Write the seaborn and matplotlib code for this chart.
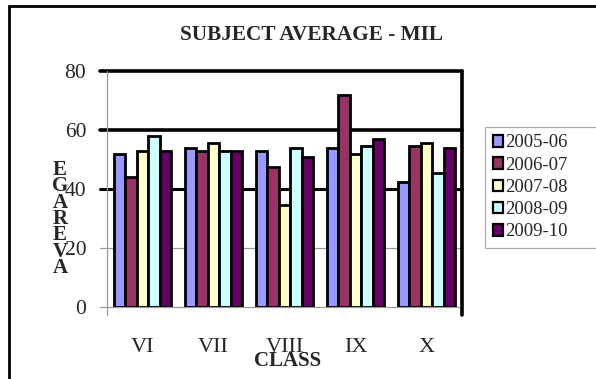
import matplotlib
matplotlib.use("Agg")
import matplotlib.pyplot as plt
import pandas as pd
import seaborn as sns
from matplotlib.patches import Patch, Rectangle

# Subject averages (MIL) per class, one list per academic year
classes = ["VI", "VII", "VIII", "IX", "X"]
years = ["2005-06", "2006-07", "2007-08", "2008-09", "2009-10"]
avg_2005_06 = [52, 54, 53, 54, 42.5]
avg_2006_07 = [44, 53, 47.5, 72, 54.5]
avg_2007_08 = [53, 55.5, 34.5, 52, 55.5]
avg_2008_09 = [58, 53, 54, 54.5, 45.5]
avg_2009_10 = [53, 53, 51, 57, 54]
y_ticks = [0, 20, 40, 60, 80]
colors = ["#9999FF", "#993366", "#FFFFCC", "#CCFFFF", "#660066"]

series = [avg_2005_06, avg_2006_07, avg_2007_08, avg_2008_09, avg_2009_10]
df = pd.DataFrame(
    [(c, y, v) for y, vals in zip(years, series) for c, v in zip(classes, vals)],
    columns=["class", "year", "avg"],
)

sns.set_style("white")
plt.rcParams["font.family"] = ["Liberation Serif", "DejaVu Serif"]

W, H = 596, 379
fig = plt.figure(figsize=(W / 100, H / 100), dpi=100)
ax_l, ax_r, ax_t, ax_b = 107, 462, 71, 307
ax = fig.add_axes([ax_l / W, 1 - ax_b / H, (ax_r - ax_l) / W, (ax_b - ax_t) / H])

sns.barplot(data=df, x="class", y="avg", hue="year", hue_order=years,
            palette=colors, saturation=1, edgecolor="black", linewidth=2,
            width=0.8, ax=ax, legend=False, zorder=2)

ax.set_ylim(0, 80)
ax.set_xlim(-0.5, 4.5)
for s in ax.spines.values():
    s.set_visible(False)

# horizontal value lines, reaching slightly left of the plot like tick marks
ext = -7 / (ax_r - ax_l)
line_style = {0: ("#999999", 0.9), 20: ("#999999", 0.9), 40: ("black", 2.2),
              60: ("black", 2.6), 80: ("black", 2.6)}
for yv in y_ticks:
    c, lw = line_style[yv]
    ax.axhline(yv, xmin=ext, xmax=1, color=c, lw=lw, clip_on=False, zorder=0.5)

down = -8 / (ax_b - ax_t)
ax.plot([0, 0], [down, 1], transform=ax.transAxes, color="#999999", lw=0.9,
        clip_on=False, zorder=0.5)
ax.plot([1, 1], [down, 1], transform=ax.transAxes, color="black", lw=2.6,
        clip_on=False, zorder=3)

ax.set_yticks(y_ticks)
ax.set_yticklabels([str(v) for v in y_ticks])
ax.tick_params(axis="y", length=0, pad=15, labelsize=15.5)

ax.set_xticks(range(len(classes)))
ax.set_xticklabels(classes)
ax.tick_params(axis="x", which="major", length=0, pad=22, labelsize=16)
ax.set_xticks([i + 0.5 for i in range(len(classes) - 1)], minor=True)
ax.tick_params(axis="x", which="minor", length=6, direction="out")
for i, t in enumerate(ax.xaxis.get_minor_ticks()):
    if i % 2 == 0:
        t.tick1line.set_color("#999999")
        t.tick1line.set_markeredgewidth(0.9)
    else:
        t.tick1line.set_color("black")
        t.tick1line.set_markeredgewidth(2.4)

ax.set_xlabel("CLASS", fontsize=15, fontweight="bold")
ax.xaxis.set_label_coords(0.5 + 3 / (ax_r - ax_l), -(361 - ax_b) / (ax_b - ax_t))
ax.xaxis.label.set_va("center")
ax.set_ylabel("")

# vertical axis caption, letters stacked
fig.text(60 / W, 1 - 219 / H, "\n".join("EGAREVA"), ha="center", va="center",
         fontsize=15, fontweight="bold", linespacing=0.76)

fig.text(312 / W, 1 - 35 / H, "SUBJECT AVERAGE - MIL", ha="center", va="center",
         fontsize=15.3, fontweight="bold")

handles = [Patch(facecolor=c, edgecolor="black", linewidth=1.6) for c in colors]
leg = fig.legend(handles, years, loc="upper left",
                 bbox_to_anchor=(485 / W, 1 - 127 / H, 0.3, 0.0), mode="expand",
                 fontsize=13.5, frameon=True, fancybox=False, edgecolor="#999999",
                 handlelength=0.55, handleheight=0.55, handletextpad=0.15,
                 labelspacing=0.28, borderpad=0.4, borderaxespad=0)
leg.get_frame().set_linewidth(0.9)
leg._legend_box.align = "left"

fig.patches.append(Rectangle((9 / W, -0.1), 1.2, 1.1 - 6 / H,
                             transform=fig.transFigure, fill=False,
                             edgecolor="black", lw=2))

fig.savefig("out.png", dpi=100)
